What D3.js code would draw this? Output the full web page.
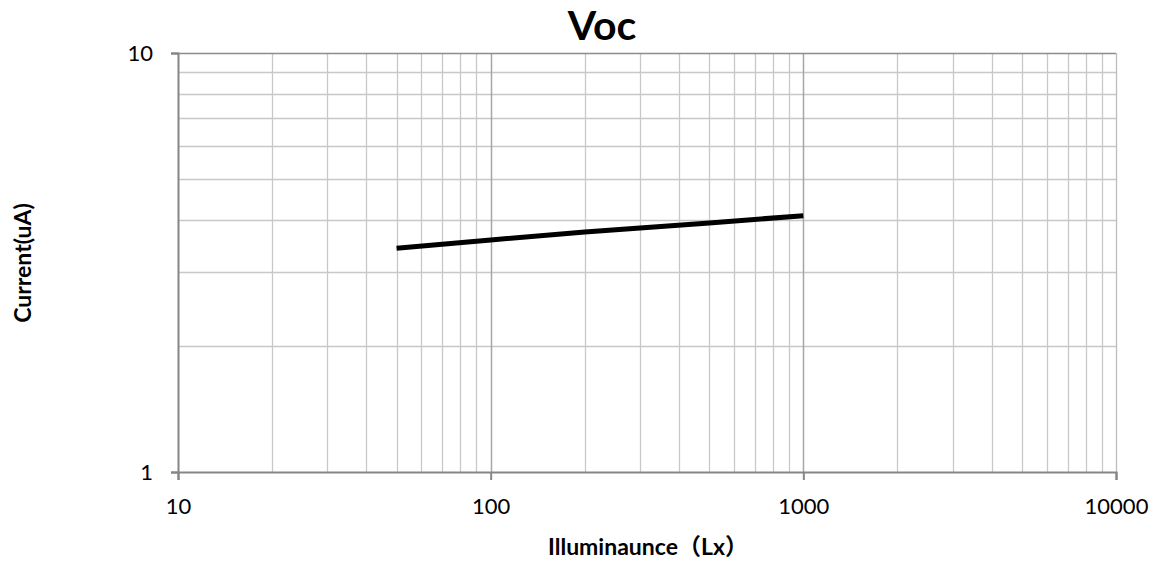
<!DOCTYPE html>
<html>
<head>
<meta charset="utf-8">
<script src="https://cdn.jsdelivr.net/npm/d3@7"></script>
<style>
  body { margin: 0; background: #fff; }
  text { font-family: Lato, "Noto Sans", "Noto Sans CJK JP", sans-serif; fill: #000; }
</style>
</head>
<body>
<div id="chart"></div>
<script>
// data
var illum = [50, 100, 200, 500, 1000];
var current = [3.42, 3.58, 3.74, 3.93, 4.09];
var xTicks = [10, 100, 1000, 10000];
var yTicks = [1, 10];

var W = 1157, H = 562;
var margin = {top: 53, right: 41, bottom: 90, left: 178};
var width = W - margin.left - margin.right;
var height = H - margin.top - margin.bottom;

var xScale = d3.scaleLog().domain([10, 10000]).range([0, width]);
var yScale = d3.scaleLog().domain([1, 10]).range([height, 0]);

var svg = d3.select("#chart").append("svg")
    .attr("width", W).attr("height", H);
var g = svg.append("g")
    .attr("transform", "translate(" + margin.left + "," + margin.top + ")");

// minor grid lines
var xMinor = [], yMinor = [];
[10, 100, 1000].forEach(function(d) {
  for (var k = 2; k <= 9; k++) xMinor.push(d * k);
});
for (var k = 2; k <= 9; k++) yMinor.push(k);

g.selectAll(".xminor").data(xMinor).enter().append("line")
  .attr("x1", function(d) { return Math.round(xScale(d)) + 0.5; })
  .attr("x2", function(d) { return Math.round(xScale(d)) + 0.5; })
  .attr("y1", 0).attr("y2", height)
  .style("stroke", "#c8c8c8").style("stroke-width", 1.3);

g.selectAll(".yminor").data(yMinor).enter().append("line")
  .attr("y1", function(d) { return Math.round(yScale(d)) + 0.5; })
  .attr("y2", function(d) { return Math.round(yScale(d)) + 0.5; })
  .attr("x1", 0).attr("x2", width)
  .style("stroke", "#c8c8c8").style("stroke-width", 1.3);

// major verticals
g.selectAll(".xmajor").data([100, 1000]).enter().append("line")
  .attr("x1", function(d) { return Math.round(xScale(d)) + 0.5; })
  .attr("x2", function(d) { return Math.round(xScale(d)) + 0.5; })
  .attr("y1", 0).attr("y2", height)
  .style("stroke", "#a6a6a6").style("stroke-width", 1.5);

// frame: top + right
g.append("line").attr("x1", 0).attr("x2", width).attr("y1", 0.5).attr("y2", 0.5)
  .style("stroke", "#8c8c8c").style("stroke-width", 1.5);
g.append("line").attr("x1", width + 0.5).attr("x2", width + 0.5).attr("y1", 0).attr("y2", height)
  .style("stroke", "#bdbdbd").style("stroke-width", 1.3);

// axes
var xAxis = d3.axisBottom(xScale).tickValues(xTicks).tickFormat(d3.format("d"))
  .tickSize(8).tickPadding(18);
var yAxis = d3.axisLeft(yScale).tickValues(yTicks).tickFormat(d3.format("d"))
  .tickSize(7).tickPadding(18);

var gx = g.append("g").attr("transform", "translate(0," + height + ")").call(xAxis);
var gy = g.append("g").call(yAxis);
[gx, gy].forEach(function(a) {
  a.select(".domain").style("stroke", "#868686").style("stroke-width", 2);
  a.selectAll(".tick line").style("stroke", "#868686").style("stroke-width", 2);
  a.selectAll("text").style("font-size", "22px").style("fill", "#000");
});
gy.selectAll(".tick text").attr("dy", "0.36em");

// series line
var line = d3.line()
  .x(function(d) { return xScale(d[0]); })
  .y(function(d) { return yScale(d[1]); });
g.append("path")
  .datum(d3.zip(illum, current))
  .attr("d", line)
  .style("fill", "none").style("stroke", "#000").style("stroke-width", 5);

// titles
svg.append("text").attr("x", 602).attr("y", 40).attr("text-anchor", "middle")
  .text("Voc").style("font-size", "41px").style("font-weight", "bold");

svg.append("text").attr("x", 648).attr("y", 555).attr("text-anchor", "middle")
  .text("Illuminaunce（Lx）").style("font-size", "23px").style("font-weight", "bold");

svg.append("text").attr("transform", "translate(31,263) rotate(-90)")
  .attr("text-anchor", "middle")
  .text("Current(uA)").style("font-size", "23px").style("font-weight", "bold");
</script>
</body>
</html>
